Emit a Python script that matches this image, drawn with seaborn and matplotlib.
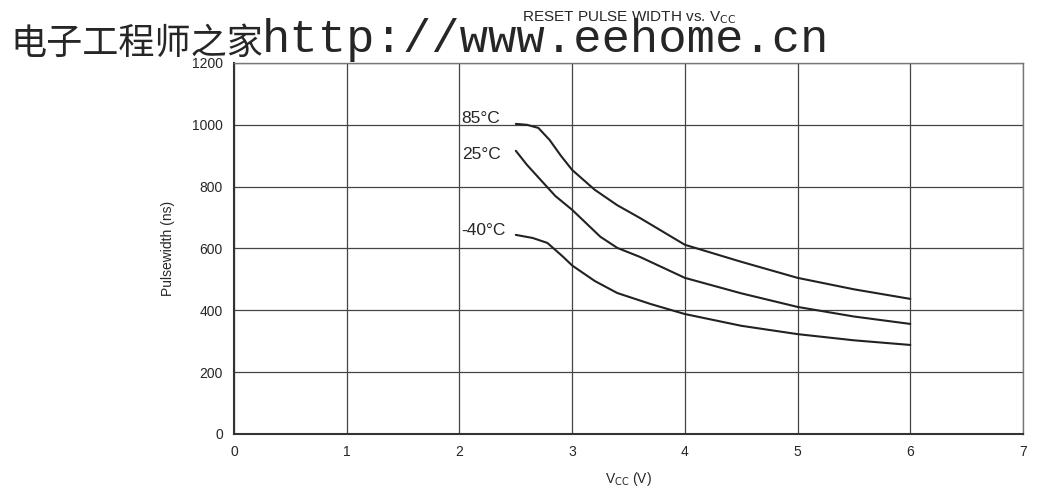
import numpy as np
import pandas as pd
import seaborn as sns
import matplotlib.pyplot as plt

# values
v_85 = [2.5, 2.6, 2.7, 2.8, 2.9, 3.0, 3.2, 3.4, 3.6, 4.0, 4.5, 5.0, 5.5, 6.0]
pw_85 = [1003, 1000, 990, 951, 900, 854, 790, 740, 699, 612, 557, 505, 468, 437]
v_25 = [2.5, 2.6, 2.72, 2.85, 3.0, 3.25, 3.4, 3.6, 4.0, 4.5, 5.0, 5.5, 6.0]
pw_25 = [916, 870, 822, 770, 725, 638, 602, 573, 505, 455, 411, 380, 356]
v_m40 = [2.5, 2.65, 2.78, 2.92, 3.0, 3.2, 3.4, 3.7, 4.0, 4.5, 5.0, 5.5, 6.0]
pw_m40 = [644, 634, 618, 573, 545, 495, 456, 420, 388, 350, 323, 303, 288]
temps = ['85°C', '25°C', '-40°C']
x_ticks = [0, 1, 2, 3, 4, 5, 6, 7]
y_ticks = [0, 200, 400, 600, 800, 1000, 1200]

sns.set_style("white")
plt.rcParams['font.family'] = ['Liberation Sans', 'DejaVu Sans']

dfs = []
for name, v, pw in zip(temps, [v_85, v_25, v_m40], [pw_85, pw_25, pw_m40]):
    d = pd.DataFrame({'Vcc': v, 'Pulsewidth': pw})
    d['temp'] = name
    dfs.append(d)
t = pd.concat(dfs).reset_index(drop=True)

fig = plt.figure(figsize=(10.37, 5.04), dpi=100)
ax = fig.add_axes([0.2257, 0.1389, 0.7608, 0.7361])
sns.lineplot(data=t, x='Vcc', y='Pulsewidth', units='temp', estimator=None,
             color='#222222', lw=1.5, ax=ax, legend=False)

ax.set_xlim(0, 7)
ax.set_ylim(0, 1200)
ax.set_xticks(x_ticks)
ax.set_yticks(y_ticks)
ax.tick_params(labelsize=10, length=0, pad=8)
ax.grid(True, color='#444444', lw=0.9)
for s in ['left', 'bottom']:
    ax.spines[s].set_color('#333333')
    ax.spines[s].set_linewidth(1.5)
for s in ['top', 'right']:
    ax.spines[s].set_color('#777777')
    ax.spines[s].set_linewidth(1.0)
ax.set_xlabel('V$_{\\mathrm{CC}}$ (V)', fontsize=10, labelpad=8)
ax.set_ylabel('Pulsewidth (ns)', fontsize=10, labelpad=12)
ax.set_title('RESET PULSE WIDTH vs. V$_{\\mathrm{CC}}$', fontsize=11, pad=30)

# curve labels
ax.text(2.02, 1022, temps[0], fontsize=12.5, va='center', ha='left')
ax.text(2.02, 903, temps[1], fontsize=12.5, va='center', ha='left')
ax.text(2.02, 657, temps[2], fontsize=12.5, va='center', ha='left')

# watermark
fig.text(10 / 1037, 1 - 54 / 504, '电子工程师之家', fontsize=26,
         family=['Noto Sans CJK SC', 'DejaVu Sans'], va='baseline', ha='left')
fig.text(262 / 1037, 1 - 52 / 504, 'http://www.eehome.cn', fontsize=34,
         family=['Liberation Mono', 'DejaVu Sans Mono'], va='baseline', ha='left')

plt.savefig('out.png', dpi=100)
plt.close()
